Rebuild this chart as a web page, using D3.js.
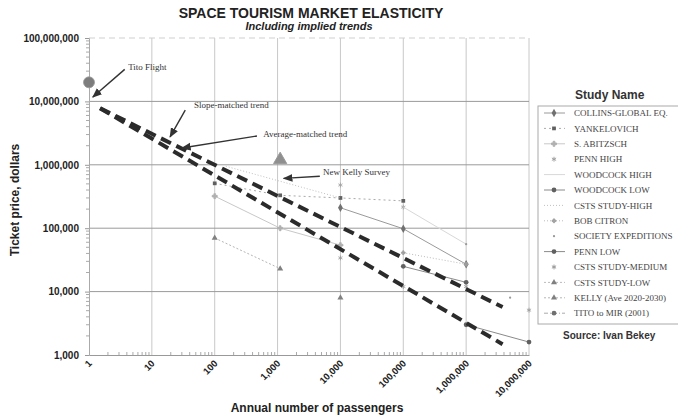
<!DOCTYPE html>
<html>
<head>
<meta charset="utf-8">
<script src="https://cdn.jsdelivr.net/npm/d3@7"></script>
<style>
  body { margin: 0; background: #fff; }
  svg { font-family: "Liberation Sans", Arial, sans-serif; }
  .serif { font-family: "Liberation Serif", "Times New Roman", serif; }
</style>
</head>
<body>
<svg id="chart" width="678" height="419"></svg>
<script>
// ---- data: [annual passengers, ticket price $] ----
const collins      = [[1e4, 210000], [1e5, 98000], [1e6, 27000]];
const yankelovich  = [[100, 510000], [1100, 330000], [1e4, 300000], [1e5, 270000]];
const abitzsch     = [[100, 320000], [1100, 100000], [1e4, 54000]];
const pennHigh     = [[1e4, 480000], [1e5, 215000]];
const woodcockHigh = [[1e5, 215000], [1e6, 56000]];
const woodcockLow  = [[1e5, 25000], [1e6, 14000]];
const cstsHigh     = [[150, 950000], [1e4, 300000]];
const bobCitron    = [[1e5, 41000], [1e6, 27000]];
const society      = [[1e6, 56000], [5e6, 8000]];
const pennLow      = [[1e6, 3000], [1e7, 1600]];
const cstsMedium   = [[1e4, 34000], [1e5, 12000], [1e6, 12000], [1e7, 5100]];
const cstsLow      = [[1e4, 8000]];
const kelly        = [[100, 70000], [1100, 23000]];
const titoMir      = [[1, 2e7]];
const newKelly     = [[1100, 1.2e6]];

// the two implied trend lines
const trendUpper = [[1.5, 7.8e6], [3.8e6, 5700]];
const trendLower = [[1.5, 7.8e6], [3.8e6, 1480]];

const studyNames = ['COLLINS-GLOBAL EQ.', 'YANKELOVICH', 'S. ABITZSCH', 'PENN HIGH',
  'WOODCOCK HIGH', 'WOODCOCK LOW', 'CSTS STUDY-HIGH', 'BOB CITRON',
  'SOCIETY EXPEDITIONS', 'PENN LOW', 'CSTS STUDY-MEDIUM', 'CSTS STUDY-LOW',
  'KELLY (Ave 2020-2030)', 'TITO to MIR (2001)'];
const studyData = [collins, yankelovich, abitzsch, pennHigh, woodcockHigh, woodcockLow,
  cstsHigh, bobCitron, society, pennLow, cstsMedium, cstsLow, kelly, titoMir];

const xTicks = [1, 10, 100, 1e3, 1e4, 1e5, 1e6, 1e7];
const yTicks = [1e3, 1e4, 1e5, 1e6, 1e7, 1e8];

// notes: text anchor and arrow tail/tip, all in data units
const notes = [
  { text: 'Tito Flight', at: [4.2, 3.1e7], from: [3.7, 3.2e7], to: [1.15, 1.17e7] },
  { text: 'Slope-matched trend', at: [47, 7.9e6], from: [34, 7.3e6], to: [19.5, 2.75e6] },
  { text: 'Average-matched trend', at: [590, 2.75e6], from: [470, 2.85e6], to: [30, 1.84e6] },
  { text: 'New Kelly Survey', at: [5300, 6.9e5], from: [4700, 6.6e5], to: [1250, 6.1e5] }
];

// line / marker look per study (same order as studyNames)
const looks = [
  { stroke: '#9a9a9a', dash: null,  sym: d3.symbolDiamond,  size: 20, fill: '#707070' },
  { stroke: '#aaa',    dash: '2,3', sym: d3.symbolSquare,   size: 14, fill: '#606060' },
  { stroke: '#c8c8c8', dash: null,  sym: d3.symbolCross,    size: 14, fill: '#b0b0b0' },
  { stroke: 'none',    dash: null,  sym: d3.symbolAsterisk, size: 16, fill: '#a0a0a0' },
  { stroke: '#d8d8d8', dash: null,  sym: null,              size: 0,  fill: '#ccc' },
  { stroke: '#8a8a8a', dash: null,  sym: d3.symbolCircle,   size: 18, fill: '#606060' },
  { stroke: '#c0c0c0', dash: '1,2', sym: null,              size: 0,  fill: '#aaa' },
  { stroke: '#bbb',    dash: '1,2', sym: d3.symbolCross,    size: 8,  fill: '#a0a0a0' },
  { stroke: 'none',    dash: null,  sym: d3.symbolCircle,   size: 4,  fill: '#999' },
  { stroke: '#8a8a8a', dash: null,  sym: d3.symbolCircle,   size: 18, fill: '#606060' },
  { stroke: 'none',    dash: null,  sym: d3.symbolAsterisk, size: 16, fill: '#999' },
  { stroke: '#bbb',    dash: '2,2', sym: d3.symbolTriangle, size: 16, fill: '#808080' },
  { stroke: '#b5b5b5', dash: '2,2', sym: d3.symbolTriangle, size: 16, fill: '#808080' },
  { stroke: '#aaa',    dash: '4,2,1,2', sym: d3.symbolCircle, size: 18, fill: '#707070' }
];

const svg = d3.select('#chart');
const plotL = 89, plotR = 529, plotT = 38, plotB = 355;

const x = d3.scaleLog().domain([1, 1e7]).range([plotL, plotR]);
const y = d3.scaleLog().domain([1e3, 1e8]).range([plotB, plotT]);
const fmt = d3.format(',');

// titles
svg.append('text').attr('x', 311).attr('y', 18).attr('text-anchor', 'middle')
  .style('font-size', '14px').style('font-weight', 'bold').attr('fill', '#222')
  .text('SPACE TOURISM MARKET ELASTICITY');
svg.append('text').attr('x', 309).attr('y', 30).attr('text-anchor', 'middle')
  .style('font-size', '11px').style('font-weight', 'bold').style('font-style', 'italic')
  .attr('fill', '#222').text('Including implied trends');

// grid
const grid = svg.append('g');
grid.selectAll('.vg').data(xTicks.slice(1)).enter().append('line')
  .attr('x1', d => x(d)).attr('x2', d => x(d)).attr('y1', plotT).attr('y2', plotB)
  .attr('stroke', '#c8c8c8').attr('stroke-width', 1);
grid.selectAll('.hg').data(yTicks.slice(1, -1)).enter().append('line')
  .attr('x1', plotL).attr('x2', plotR).attr('y1', d => y(d)).attr('y2', d => y(d))
  .attr('stroke', '#9a9a9a').attr('stroke-width', 1);
// top edge, faint
grid.append('line').attr('x1', plotL).attr('x2', plotR).attr('y1', plotT).attr('y2', plotT)
  .attr('stroke', '#cfcfcf').attr('stroke-dasharray', '6,4');

// minor ticks (2..9 in each decade)
const minorY = y.ticks().filter(d => !yTicks.includes(d));
const minorX = x.ticks().filter(d => !xTicks.includes(d));

// y axis
const yAxis = svg.append('g').attr('transform', `translate(${plotL},0)`)
  .call(d3.axisLeft(y).tickValues(yTicks).tickFormat(fmt).tickSize(4).tickPadding(6));
yAxis.select('.domain').attr('stroke', '#aaa');
yAxis.selectAll('.tick line').attr('stroke', '#999');
yAxis.selectAll('text').style('font-size', '10px').style('font-weight', 'bold')
  .attr('fill', '#222');
svg.append('g').selectAll('line').data(minorY).enter().append('line')
  .attr('x1', plotL - 3).attr('x2', plotL + 1).attr('y1', d => y(d)).attr('y2', d => y(d))
  .attr('stroke', '#aaa');

// x axis
const xAxis = svg.append('g').attr('transform', `translate(0,${plotB})`)
  .call(d3.axisBottom(x).tickValues(xTicks).tickFormat(fmt).tickSize(0));
xAxis.select('.domain').attr('stroke', '#999');
xAxis.selectAll('text')
  .style('font-size', '9.5px').style('font-weight', 'bold').attr('fill', '#222')
  .attr('text-anchor', 'end').attr('dy', null).attr('y', 0)
  .attr('transform', 'translate(3,9) rotate(-45)');
svg.append('g').selectAll('line').data(minorX).enter().append('line')
  .attr('x1', d => x(d)).attr('x2', d => x(d)).attr('y1', plotB - 3).attr('y2', plotB)
  .attr('stroke', '#aaa');

// axis titles
svg.append('text').attr('transform', 'translate(19,200) rotate(-90)')
  .attr('text-anchor', 'middle').style('font-size', '12px').style('font-weight', 'bold')
  .attr('fill', '#222').text('Ticket price, dollars');
svg.append('text').attr('x', 317).attr('y', 412).attr('text-anchor', 'middle')
  .style('font-size', '12px').style('font-weight', 'bold').attr('fill', '#222')
  .text('Annual number of passengers');

// study series
const line = d3.line().x(d => x(d[0])).y(d => y(d[1]));
const series = svg.append('g');
studyData.forEach((pts, i) => {
  const lk = looks[i];
  if (lk.stroke !== 'none' && pts.length > 1) {
    series.append('path').datum(pts).attr('d', line).attr('fill', 'none')
      .attr('stroke', lk.stroke).attr('stroke-width', 1)
      .attr('stroke-dasharray', lk.dash);
  }
  if (lk.sym) {
    const big = i === studyData.length - 1;
    series.selectAll(null).data(pts).enter().append('path')
      .attr('transform', d => `translate(${x(d[0])},${y(d[1])})`)
      .attr('d', d3.symbol().type(lk.sym).size(big ? 95 : lk.size))
      .attr('fill', big ? '#7d7d7d' : lk.fill)
      .attr('stroke', big ? '#999' : (lk.sym === d3.symbolAsterisk || lk.sym === d3.symbolCross ? lk.fill : 'none'))
      .attr('stroke-width', 0.8);
  }
});
// new Kelly survey point (large triangle)
series.selectAll(null).data(newKelly).enter().append('path')
  .attr('transform', d => `translate(${x(d[0])},${y(d[1])})`)
  .attr('d', d3.symbol().type(d3.symbolTriangle).size(75))
  .attr('fill', '#8f8f8f').attr('stroke', '#999');

// trend lines
[trendUpper, trendLower].forEach(t => {
  svg.append('path').datum(t).attr('d', line).attr('fill', 'none')
    .attr('stroke', '#2b2b2b').attr('stroke-width', 4)
    .attr('stroke-dasharray', '11,6');
});

// notes with arrows
svg.append('defs').append('marker').attr('id', 'arrow')
  .attr('viewBox', '0 0 10 10').attr('refX', 9).attr('refY', 5)
  .attr('markerWidth', 7).attr('markerHeight', 7).attr('orient', 'auto')
  .append('path').attr('d', 'M0,1 L10,5 L0,9 Z').attr('fill', '#333');
const noteG = svg.append('g');
notes.forEach(n => {
  noteG.append('line')
    .attr('x1', x(n.from[0])).attr('y1', y(n.from[1]))
    .attr('x2', x(n.to[0])).attr('y2', y(n.to[1]))
    .attr('stroke', '#333').attr('stroke-width', 1.4).attr('marker-end', 'url(#arrow)');
  noteG.append('text').attr('class', 'serif')
    .attr('x', x(n.at[0])).attr('y', y(n.at[1]))
    .style('font-size', '9px').attr('fill', '#333').text(n.text);
});

// legend
const lg = svg.append('g');
lg.append('text').attr('x', 575).attr('y', 99).style('font-size', '12px')
  .style('font-weight', 'bold').attr('fill', '#333').text('Study Name');
lg.append('rect').attr('x', 538).attr('y', 106).attr('width', 150).attr('height', 218)
  .attr('fill', 'none').attr('stroke', '#aaa').attr('stroke-width', 1);
studyNames.forEach((name, i) => {
  const lk = looks[i];
  const cy = 113 + i * 15.4;
  if (lk.stroke !== 'none') {
    lg.append('line').attr('x1', 544).attr('x2', 565).attr('y1', cy).attr('y2', cy)
      .attr('stroke', lk.stroke).attr('stroke-width', 1).attr('stroke-dasharray', lk.dash);
  }
  if (lk.sym) {
    lg.append('path').attr('transform', `translate(554,${cy})`)
      .attr('d', d3.symbol().type(lk.sym).size(lk.size))
      .attr('fill', lk.fill)
      .attr('stroke', lk.sym === d3.symbolAsterisk || lk.sym === d3.symbolCross ? lk.fill : 'none');
  }
  lg.append('text').attr('class', 'serif').attr('x', 574).attr('y', cy + 3.2)
    .style('font-size', '9px').attr('fill', '#444').text(name);
});
lg.append('text').attr('x', 563).attr('y', 339).style('font-size', '10px')
  .style('font-weight', 'bold').attr('fill', '#333').text('Source: Ivan Bekey');
</script>
</body>
</html>
